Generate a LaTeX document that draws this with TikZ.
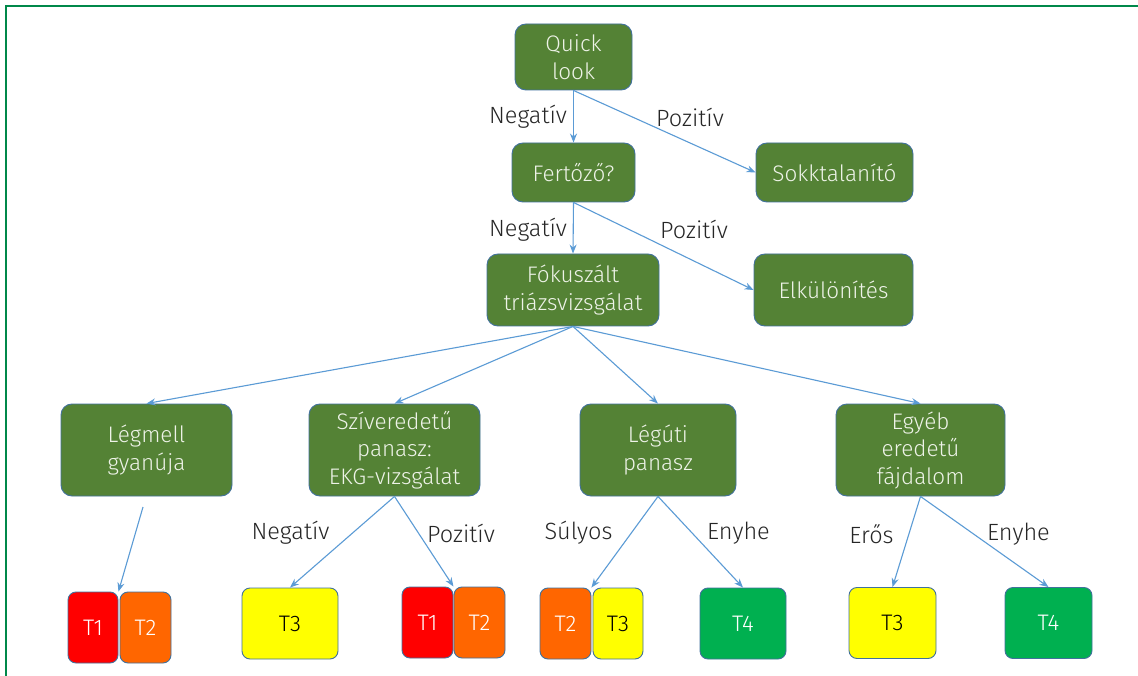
\documentclass[tikz,border=0pt]{standalone}
\usepackage{fontspec}
\setmainfont{Fira Sans}[UprightFont=* Light]
\usetikzlibrary{arrows.meta}
\definecolor{boxgreen}{HTML}{548235}
\definecolor{boxline}{HTML}{41719C}
\definecolor{boxtext}{HTML}{EEF3E8}
\definecolor{arrowblue}{HTML}{5B9BD5}
\definecolor{framegreen}{HTML}{00884A}
\definecolor{tred}{HTML}{FF0000}
\definecolor{torange}{HTML}{FF6600}
\definecolor{tyellow}{HTML}{FFFF00}
\definecolor{tgreen}{HTML}{00B050}
\definecolor{labeltext}{HTML}{262626}
\tikzset{
  gbox/.style={draw=boxline, line width=0.9pt, fill=boxgreen, rounded corners=11pt,
    text=boxtext, align=center, inner sep=0pt, font=\fontsize{22.5}{27.5}\selectfont},
  tbox/.style={draw=boxline, line width=0.9pt, rounded corners=8pt, inner sep=0pt,
    minimum height=71pt, font=\fontsize{22.5}{27}\selectfont},
  lbl/.style={text=labeltext, inner sep=0pt, font=\fontsize{23.5}{27}\selectfont},
  conn/.style={draw=arrowblue, line width=1.1pt, -{Stealth[length=9pt,width=7pt]}}
}
\begin{document}
\begin{tikzpicture}[x=1pt,y=-1pt]
\useasboundingbox (0,0) rectangle (1138,676);
\fill[white] (0,0) rectangle (1138,676);
\draw[framegreen, line width=2pt] (1138,6) -- (6,6) -- (6,676);

% main boxes
\node[gbox, minimum width=117pt, minimum height=66pt] (ql) at (573.5,57) {Quick\\look};
\node[gbox, minimum width=123pt, minimum height=59pt] (fer) at (573.5,172.5) {Fertőző?};
\node[gbox, minimum width=157pt, minimum height=59pt] (sok) at (834.5,172.5) {Sokktalanító};
\node[gbox, minimum width=172pt, minimum height=72pt] (fok) at (573,290) {Fókuszált\\triázsvizsgálat};
\node[gbox, minimum width=159pt, minimum height=72pt] (elk) at (833.5,290) {Elkülönítés};
\node[gbox, minimum width=171pt, minimum height=92pt] (leg) at (146.5,450) {Légmell\\gyanúja};
\node[gbox, minimum width=171pt, minimum height=92pt] (szi) at (394.5,450) {Szíveredetű\\panasz:\\EKG-vizsgálat};
\node[gbox, minimum width=156pt, minimum height=92pt] (lgu) at (658,450) {Légúti\\panasz};
\node[gbox, minimum width=169pt, minimum height=92pt] (egy) at (920.5,450) {Egyéb\\eredetű\\fájdalom};

% triage boxes
\node[tbox, fill=tred, text=white, minimum width=50pt] (lt1) at (93,627.5) {T1};
\node[tbox, fill=torange, text=white, minimum width=51pt] (lt2) at (145.5,627.5) {T2};
\node[tbox, fill=tyellow, text=black, minimum width=96pt] (st3) at (290,623.5) {T3};
\node[tbox, fill=tred, text=white, minimum width=51pt] (st1) at (427.5,622.5) {T1};
\node[tbox, fill=torange, text=white, minimum width=51pt] (st2) at (479.5,622.5) {T2};
\node[tbox, fill=torange, text=white, minimum width=51pt] (gt2) at (565.5,623.5) {T2};
\node[tbox, fill=tyellow, text=black, minimum width=50pt] (gt3) at (618,623.5) {T3};
\node[tbox, fill=tgreen, text=white, minimum width=86pt] (gt4) at (743,623.5) {T4};
\node[tbox, fill=tyellow, text=black, minimum width=87pt] (et3) at (892.5,623) {T3};
\node[tbox, fill=tgreen, text=white, minimum width=87pt] (et4) at (1048.5,623) {T4};

% labels
\node[lbl] (l1) at (528,117) {Negatív};
\node[lbl] (l2) at (690,117) {Pozitív};
\node[lbl] (l3) at (528,230) {Negatív};
\node[lbl] (l4) at (694,229) {Pozitív};
\node[lbl] (l5) at (290.5,533) {Negatív};
\node[lbl] (l6) at (461,533) {Pozitív};
\node[lbl] (l7) at (578.5,533) {Súlyos};
\node[lbl] (l8) at (738.5,533) {Enyhe};
\node[lbl] (l9) at (871.5,534) {Erős};
\node[lbl] (l10) at (1018.5,534) {Enyhe};

% connectors
\draw[conn] (ql.south) -- (fer.north);
\draw[conn] (ql.south) -- (sok.west);
\draw[conn] (fer.south) -- (fok.north);
\draw[conn] (fer.south) -- (elk.west);
\draw[conn] (fok.south) -- (leg.north);
\draw[conn] (fok.south) -- (szi.north);
\draw[conn] (fok.south) -- (lgu.north);
\draw[conn] (fok.south) -- (egy.north);
\coordinate (legfree) at (143,507);
\draw[conn] (legfree) -- (lt1.north east);
\draw[conn] (szi.south) -- (st3.north);
\draw[conn] (szi.south) -- (st1.north east);
\draw[conn] (lgu.south) -- (gt2.north east);
\draw[conn] (lgu.south) -- (gt4.north);
\draw[conn] (egy.south) -- (et3.north);
\draw[conn] (egy.south) -- (et4.north);
\end{tikzpicture}
\end{document}
